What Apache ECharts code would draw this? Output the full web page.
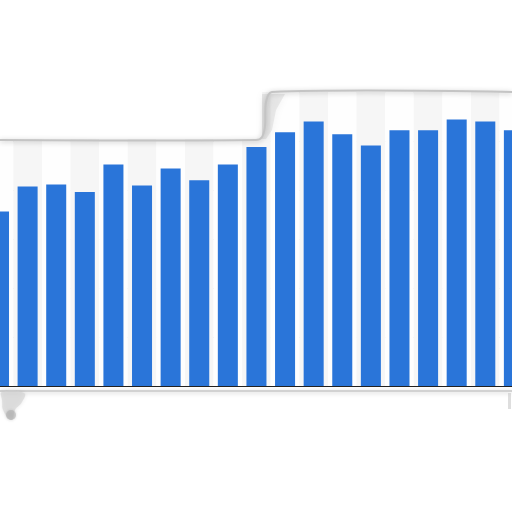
<!DOCTYPE html>
<html>
<head>
<meta charset="utf-8">
<script src="https://cdn.jsdelivr.net/npm/echarts@6/dist/echarts.min.js"></script>
<style>html,body{margin:0;padding:0;background:#fff}#c{width:512px;height:512px}</style>
</head>
<body>
<div id="c"></div>
<script>
var categories = ['1','2','3','4','5','6','7','8','9','10','11','12','13','14','15','16','17','18','19'];
var values = [3.56, 4.07, 4.11, 3.96, 4.52, 4.09, 4.44, 4.20, 4.52, 4.88, 5.18, 5.40, 5.14, 4.91, 5.22, 5.22, 5.44, 5.40, 5.22];
var yTicks = [0, 1, 2, 3, 4, 5, 6];

var chart = echarts.init(document.getElementById('c'), null, {renderer: 'canvas'});
chart.setOption({
  animation: false,
  backgroundColor: '#ffffff',
  grid: {left: -15.3, width: 543.5, top: 92, bottom: 126, containLabel: false, outerBoundsMode: 'none'},
  xAxis: {
    type: 'category',
    data: categories,
    boundaryGap: true,
    axisLine: {show: true, lineStyle: {color: '#222', width: 1}},
    axisTick: {show: false},
    axisLabel: {show: false},
    splitArea: {show: true, areaStyle: {color: ['#fefefe', '#f6f6f6']}}
  },
  yAxis: {
    type: 'value',
    min: yTicks[0],
    max: yTicks[yTicks.length - 1],
    interval: 1,
    axisLine: {show: false},
    axisTick: {show: false},
    axisLabel: {show: false},
    splitLine: {show: true, lineStyle: {color: '#d8d8d8', type: 'dotted', width: 1}}
  },
  series: [{
    type: 'bar',
    data: values,
    barCategoryGap: '30%',
    itemStyle: {color: '#2a75d9'},
    z: 3
  }],
  graphic: [
    {type: 'rect', z: 100, shape: {x: 0, y: 0, width: 262, height: 139}, style: {fill: '#ffffff'}},
    {type: 'rect', z: 100, shape: {x: 0, y: 0, width: 512, height: 90}, style: {fill: '#ffffff'}},
    {type: 'polygon', z: 101, shape: {points: [[262,94],[285,94],[276,110],[272,130],[266,139],[262,139]]},
      style: {fill: 'rgba(200,200,200,0.35)', shadowBlur: 8, shadowColor: 'rgba(0,0,0,0.15)'}},
    {type: 'polyline', z: 102, shape: {points: [[0,140],[256,140],[262,137],[265,126],[266,102],[272,92],[512,92]], smooth: 0.3},
      style: {stroke: '#c4c4c4', lineWidth: 2, fill: null, shadowBlur: 5, shadowColor: 'rgba(0,0,0,0.25)', shadowOffsetY: 1}},
    {type: 'polyline', z: 102, shape: {points: [[0,391],[512,391]]},
      style: {stroke: '#d2d2d2', lineWidth: 2, fill: null, shadowBlur: 5, shadowColor: 'rgba(0,0,0,0.2)', shadowOffsetY: 1}},
    {type: 'polygon', z: 102, shape: {points: [[2,392],[24,393],[22,402],[15,410],[12,420],[4,412],[2,400]], smooth: 0.5},
      style: {fill: 'rgba(210,210,210,0.6)', shadowBlur: 4, shadowColor: 'rgba(0,0,0,0.15)'}},
    {type: 'circle', z: 103, shape: {cx: 11, cy: 415, r: 5}, style: {fill: 'rgba(175,175,175,0.55)', shadowBlur: 3, shadowColor: 'rgba(0,0,0,0.2)'}},
    {type: 'rect', z: 102, shape: {x: 508, y: 393, width: 3, height: 16}, style: {fill: 'rgba(200,200,200,0.6)'}}
  ]
});
</script>
</body>
</html>
